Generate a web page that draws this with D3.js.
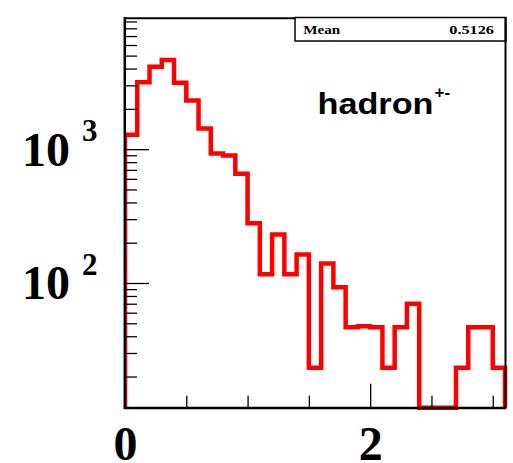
<!DOCTYPE html>
<html>
<head>
<meta charset="utf-8">
<script src="https://cdn.jsdelivr.net/npm/d3@7"></script>
<style>
  html, body { margin: 0; padding: 0; background: #ffffff; }
  svg { display: block; }
</style>
</head>
<body>
<svg id="chart" width="513" height="463"></svg>
<script>
// Histogram bins: lower edges (width 0.1) and contents
const binLow = [0.0, 0.1, 0.2, 0.3, 0.4, 0.5, 0.6, 0.7, 0.8, 0.9,
                1.0, 1.1, 1.2, 1.3, 1.4, 1.5, 1.6, 1.7, 1.8, 1.9,
                2.0, 2.1, 2.2, 2.3, 2.4, 2.5, 2.6, 2.7, 2.8, 2.9, 3.0];
const binWidth = 0.1;
const counts = [1280, 3160, 4130, 4640, 3140, 2310, 1425, 927, 896, 654,
                279, 116, 230, 116, 163, 23.3, 140, 93, 46.6, 47.5,
                46.6, 23.3, 46.6, 69.9, 0, 0, 0, 23.3, 46.6, 46.6, 23.3];

// Axis settings
const xDomain = [0, 3.1];
const yDomain = [11.7, 9550];
const xMajorTicks = [0, 2];
const xMinorTicks = [0.5, 1, 1.5, 2.5, 3];
const xTickLabels = ["0", "2"];
const yMajorTicks = [100, 1000];
const yMinorTicks = [20, 30, 40, 50, 60, 70, 80, 90,
                     200, 300, 400, 500, 600, 700, 800, 900,
                     2000, 3000, 4000, 5000, 6000, 7000, 8000, 9000];
const yTickExponents = ["2", "3"];

// Statistics box and label
const statName = "Mean";
const statValue = "0.5126";
const histTitle = "hadron";
const histTitleSup = "+-";

(function draw() {
  const svg = d3.select("#chart");
  const frameL = 125, frameR = 505, frameT = 18, frameB = 407.7;

  const x = d3.scaleLinear().domain(xDomain).range([frameL, frameR]);
  const y = d3.scaleLog().domain(yDomain).range([frameB, frameT]);
  const yv = v => y(Math.max(v, yDomain[0]));

  // Histogram outline
  svg.append("clipPath").attr("id", "plotclip")
    .append("rect").attr("x", frameL - 1).attr("y", 0)
    .attr("width", frameR - frameL + 6).attr("height", frameB + 4);

  const pts = [[xDomain[0], yDomain[0]]];
  binLow.forEach((lo, i) => pts.push([lo, counts[i]]));
  pts.push([binLow[binLow.length - 1] + binWidth, counts[counts.length - 1]]);
  pts.push([binLow[binLow.length - 1] + binWidth, yDomain[0]]);

  const line = d3.line()
    .x(d => x(d[0]))
    .y(d => yv(d[1]))
    .curve(d3.curveStepAfter);

  svg.append("path")
    .attr("d", line(pts))
    .attr("clip-path", "url(#plotclip)")
    .attr("fill", "none")
    .attr("stroke", "#ff0000")
    .attr("stroke-width", 4.5)
    .attr("stroke-linejoin", "miter");

  // Ticks
  function tickAxis(axis, tx, ty) {
    const g = svg.append("g").attr("transform", `translate(${tx},${ty})`).call(axis);
    g.select(".domain").remove();
    g.selectAll(".tick line").attr("stroke", "#000").attr("stroke-width", 1.3);
    g.selectAll(".tick text").remove();
    return g;
  }
  tickAxis(d3.axisRight(y).tickValues(yMinorTicks).tickSize(12).tickFormat(""), frameL, 0);
  tickAxis(d3.axisRight(y).tickValues(yMajorTicks).tickSize(24).tickFormat(""), frameL, 0);
  tickAxis(d3.axisTop(x).tickValues(xMinorTicks).tickSize(12).tickFormat(""), 0, frameB);
  tickAxis(d3.axisTop(x).tickValues(xMajorTicks).tickSize(24).tickFormat(""), 0, frameB);

  // Frame
  svg.append("line").attr("x1", frameL - 0.2).attr("x2", frameL - 0.2).attr("y1", frameT - 1).attr("y2", frameB + 1.3)
    .attr("stroke", "#000").attr("stroke-width", 2.5);
  svg.append("line").attr("x1", frameL - 1).attr("x2", frameR + 1).attr("y1", frameB + 0.3).attr("y2", frameB + 0.3)
    .attr("stroke", "#000").attr("stroke-width", 2.5);
  svg.append("line").attr("x1", frameL - 1).attr("x2", frameR + 1).attr("y1", frameT + 0.3).attr("y2", frameT + 0.3)
    .attr("stroke", "#000").attr("stroke-width", 2);
  svg.append("line").attr("x1", frameR + 0.5).attr("x2", frameR + 0.5).attr("y1", frameT - 1).attr("y2", frameB + 1)
    .attr("stroke", "#000").attr("stroke-width", 2);

  // Axis labels
  const serif = "'Liberation Serif', 'Times New Roman', serif";
  xMajorTicks.forEach((t, i) => {
    svg.append("text")
      .attr("x", x(t) + 0.5).attr("y", 459.5)
      .attr("text-anchor", "middle")
      .attr("font-family", serif).attr("font-weight", "bold").attr("font-size", 48)
      .attr("fill", "#000")
      .text(xTickLabels[i]);
  });
  yMajorTicks.forEach((t, i) => {
    const ty = y(t);
    svg.append("text")
      .attr("x", 70).attr("y", ty + 16.5)
      .attr("text-anchor", "end")
      .attr("font-family", serif).attr("font-weight", "bold").attr("font-size", 48)
      .attr("fill", "#000")
      .text("10");
    svg.append("text")
      .attr("x", 82).attr("y", ty - 7.8)
      .attr("text-anchor", "start")
      .attr("font-family", serif).attr("font-weight", "bold").attr("font-size", 31)
      .attr("fill", "#000")
      .text(yTickExponents[i]);
  });

  // Statistics box
  svg.append("rect")
    .attr("x", 295).attr("y", 17.5).attr("width", frameR + 0.5 - 295).attr("height", 23.5)
    .attr("fill", "#fff").attr("stroke", "#000").attr("stroke-width", 1.5);
  svg.append("text")
    .attr("x", 303.3).attr("y", 33.7)
    .attr("font-family", serif).attr("font-weight", "bold").attr("font-size", 13)
    .attr("textLength", 37).attr("lengthAdjust", "spacingAndGlyphs")
    .attr("fill", "#000").text(statName);
  svg.append("text")
    .attr("x", 449.3).attr("y", 33.7)
    .attr("font-family", serif).attr("font-weight", "bold").attr("font-size", 13)
    .attr("textLength", 44.7).attr("lengthAdjust", "spacingAndGlyphs")
    .attr("fill", "#000").text(statValue);
  // Right frame edge drawn again over the box
  svg.append("line").attr("x1", frameR + 0.5).attr("x2", frameR + 0.5).attr("y1", frameT - 1).attr("y2", 42)
    .attr("stroke", "#000").attr("stroke-width", 2);

  // Title label with superscript
  const sans = "'Liberation Sans', Arial, Helvetica, sans-serif";
  svg.append("text")
    .attr("x", 317.5).attr("y", 114)
    .attr("font-family", sans).attr("font-weight", "bold").attr("font-size", 29)
    .attr("textLength", 116).attr("lengthAdjust", "spacingAndGlyphs")
    .attr("fill", "#000").text(histTitle);
  svg.append("text")
    .attr("x", 434.5).attr("y", 98)
    .attr("font-family", sans).attr("font-weight", "bold").attr("font-size", 17)
    .attr("fill", "#000").text(histTitleSup);
})();
</script>
</body>
</html>
